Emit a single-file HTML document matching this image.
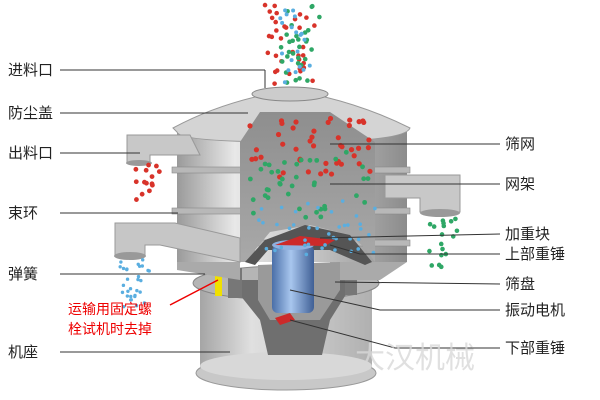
<!DOCTYPE html>
<html><head><meta charset="utf-8"><style>
html,body{margin:0;padding:0;background:#fff;}
svg{display:block}
text{font-family:"Liberation Sans","Noto Sans CJK SC",sans-serif;font-size:15px;fill:#222}
</style></head><body>
<svg id="s" width="600" height="400" viewBox="0 0 600 400" xmlns="http://www.w3.org/2000/svg">
<defs>
<linearGradient id="cyl" x1="0" x2="1" y1="0" y2="0">
<stop offset="0" stop-color="#9a9a9a"/><stop offset="0.25" stop-color="#e8e8e8"/><stop offset="0.6" stop-color="#c4c4c4"/><stop offset="1" stop-color="#8c8c8c"/></linearGradient>
<linearGradient id="base" x1="0" x2="1"><stop offset="0" stop-color="#a5a5a5"/><stop offset="0.3" stop-color="#e0e0e0"/><stop offset="1" stop-color="#b0b0b0"/></linearGradient>
<linearGradient id="blue" x1="0" x2="1"><stop offset="0" stop-color="#4a6fa8"/><stop offset="0.45" stop-color="#a8c6ee"/><stop offset="1" stop-color="#3f5f95"/></linearGradient>
<linearGradient id="cut" x1="0" x2="0" y1="0" y2="1"><stop offset="0" stop-color="#8e8e8e"/><stop offset="1" stop-color="#a9a9a9"/></linearGradient>
</defs>
<path d="M200 290 L200 372 Q285 398 372 372 L372 290 Z" fill="url(#base)"/>
<ellipse cx="286" cy="373" rx="90" ry="17" fill="#c8c8c8" stroke="#999"/>
<ellipse cx="286" cy="366" rx="86" ry="14" fill="#d8d8d8"/>
<ellipse cx="286" cy="283" rx="93" ry="17" fill="#b5b5b5" stroke="#888"/>
<path d="M228 280 L260 320 L268 355 L322 355 L330 320 L355 280 Z" fill="#6f6f6f"/>
<rect x="228" y="268" width="14" height="30" fill="#777"/><rect x="345" y="265" width="12" height="30" fill="#777"/>
<rect x="215" y="268" width="7" height="28" fill="#f0e000"/>
<rect x="177" y="132" width="230" height="130" fill="url(#cyl)"/>
<path d="M177 262 L240 262 L240 280 L177 270 Z" fill="#aaa"/>
<path d="M330 262 L407 262 L380 280 L330 280Z" fill="#aaa"/>
<path d="M173 128 Q210 108 255 97 L325 97 Q370 108 410 128 Q405 142 290 142 Q180 142 177 132 Z" fill="#d4d4d4" stroke="#999"/>
<ellipse cx="290" cy="94" rx="38" ry="7" fill="#ccc" stroke="#888"/>
<rect x="172" y="167" width="238" height="6" fill="#b8b8b8" stroke="#888" stroke-width="0.6"/>
<rect x="172" y="208" width="238" height="6" fill="#b8b8b8" stroke="#888" stroke-width="0.6"/>
<rect x="172" y="240" width="238" height="6" fill="#b8b8b8" stroke="#888" stroke-width="0.6"/>
<path d="M240 142 L240 262 L255 262 L255 250 L270 232 L310 225 L350 235 L365 248 L375 262 L375 142 L330 112 L260 112 Z" fill="url(#cut)"/>
<path d="M245 262 L265 240 L305 225 L350 235 L372 262 L365 265 L330 250 L268 250 L255 265 Z" fill="#555"/>
<path d="M258 265 L258 300 L270 320 L320 320 L340 290 L340 262 Z" fill="#9a9a9a"/>
<rect x="272" y="245" width="42" height="68" rx="6" fill="url(#blue)"/>
<ellipse cx="293" cy="245" rx="21" ry="5" fill="#8fb1e0"/>
<path d="M275 245 L300 236 L335 240 L325 246 Z" fill="#cc2a2a"/>
<path d="M275 318 L290 313 L295 320 L280 325 Z" fill="#cc2a2a"/>
<path d="M127 135 L190 135 L200 155 L150 155 L150 163 L127 163 Z" fill="#c8c8c8" stroke="#999"/>
<ellipse cx="139" cy="163" rx="13" ry="3" fill="#999"/>
<path d="M115 223 L175 223 L240 238 L240 262 L160 245 L145 245 L145 255 L115 255 Z" fill="#c6c6c6" stroke="#999"/>
<ellipse cx="130" cy="256" rx="16" ry="4" fill="#999"/>
<path d="M385 175 L460 175 L460 212 L420 212 L420 198 L385 198 Z" fill="#c8c8c8" stroke="#999"/>
<ellipse cx="440" cy="213" rx="20" ry="4" fill="#999"/>
<g id="dots"></g>
<g stroke="#333" stroke-width="1" fill="none">
<line x1="60" y1="70" x2="265" y2="70"/><line x1="265" y1="70" x2="265" y2="88"/>
<line x1="60" y1="113" x2="248" y2="113"/>
<line x1="60" y1="153" x2="140" y2="153"/>
<line x1="60" y1="213" x2="178" y2="213"/>
<line x1="60" y1="274" x2="205" y2="274"/>
<line x1="60" y1="352" x2="230" y2="352"/>
<line x1="330" y1="144" x2="500" y2="144"/>
<line x1="330" y1="184" x2="500" y2="184"/>
<line x1="320" y1="238" x2="500" y2="234"/>
<polyline points="330,245 360,254 500,254"/>
<line x1="335" y1="282" x2="500" y2="284"/>
<polyline points="290,290 380,310 500,310"/>
<polyline points="290,320 395,348 500,348"/>
</g>
<line x1="170" y1="305" x2="218" y2="280" stroke="#e00" stroke-width="1.5"/>
<text x="8" y="75">进料口</text><text x="8" y="118">防尘盖</text><text x="8" y="158">出料口</text>
<text x="8" y="218">束环</text><text x="8" y="279">弹簧</text><text x="8" y="357">机座</text>
<text x="68" y="314" style="fill:#e00;font-size:14px">运输用固定螺</text>
<text x="68" y="334" style="fill:#e00;font-size:14px">栓试机时去掉</text>
<text x="505" y="149">筛网</text><text x="505" y="189">网架</text><text x="505" y="239">加重块</text>
<text x="505" y="259">上部重锤</text><text x="505" y="289">筛盘</text><text x="505" y="315">振动电机</text>
<text x="505" y="353">下部重锤</text>
<text x="355" y="368" style="font-size:30px;fill:#d8d8d8;fill-opacity:0.8">大汉机械</text>
</svg>
<script>
var g=document.getElementById('dots'),s=1;
function r(){s=(s*16807)%2147483647;return s/2147483647;}
function add(x0,y0,w,h,n,c,rad){for(var i=0;i<n;i++){var c1=document.createElementNS('http://www.w3.org/2000/svg','circle');c1.setAttribute('cx',x0+r()*w);c1.setAttribute('cy',y0+r()*h);c1.setAttribute('r',rad);c1.setAttribute('fill',c);g.appendChild(c1);}}
add(250,118,120,60,45,'#d8332a',2.6);
add(250,150,120,70,40,'#2fa766',2.4);
add(250,200,125,55,40,'#5aaee0',1.8);
add(265,5,50,80,35,'#d8332a',2.3);
add(275,5,45,80,30,'#2fa766',2.3);
add(280,10,30,80,20,'#5aaee0',2);
add(135,165,25,35,14,'#d8332a',2.4);
add(120,258,30,50,30,'#5aaee0',1.7);
add(428,218,30,50,18,'#2fa766',2.3);
</script>
</body></html>
